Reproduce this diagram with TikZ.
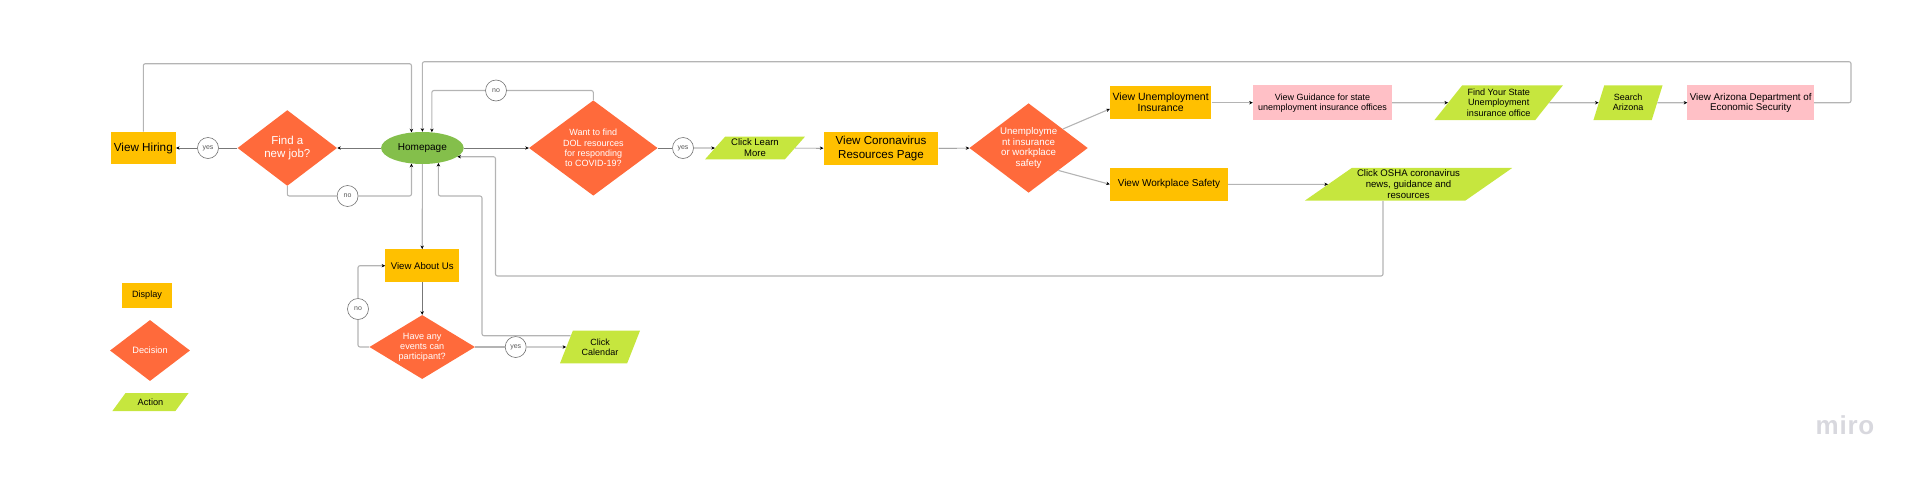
\documentclass[tikz,border=0pt]{standalone}
\usepackage{fontspec}
\setmainfont{Liberation Sans}
\usetikzlibrary{positioning,calc,arrows.meta,shapes.geometric}
\definecolor{displayc}{HTML}{FFC000}
\definecolor{decisionc}{HTML}{FF6A3B}
\definecolor{actionc}{HTML}{C6E63E}
\definecolor{pinkc}{HTML}{FFC0C6}
\definecolor{homec}{HTML}{84BF4B}
\definecolor{linec}{HTML}{777777}
\definecolor{routec}{HTML}{B4B4B4}
\definecolor{logoc}{HTML}{D8D8DE}
\newcommand{\fs}[1]{\fontsize{#1}{#1}\selectfont}
\newcommand{\logofs}{\fontsize{26}{26}\selectfont\bfseries\addfontfeature{LetterSpace=3}}

\begin{document}
\begin{tikzpicture}[x=1pt,y=-1pt]
    \tikzstyle{every node}=[inner sep=0,align=center]
    \tikzstyle{display}=[rectangle,fill=displayc,text=black]
    \tikzstyle{pink}=[rectangle,fill=pinkc,text=black]
    \tikzstyle{decision}=[diamond,aspect=1.35,fill=decisionc,text=white]
    \tikzstyle{action}=[trapezium,trapezium stretches=true,trapezium left angle=#1,trapezium right angle=180-#1,fill=actionc,text=black]
    \tikzstyle{choice}=[circle,draw=black!55,fill=white,minimum size=21,line width=.6,text=black!65,font=\fs{7}]
    \tikzstyle{tip}=[-{Stealth[length=3.6pt,width=3.4pt,black]}]
    \tikzstyle{flow}=[tip,draw=linec,line width=.7,rounded corners=2]
    \tikzstyle{plain}=[draw=linec,line width=.7,rounded corners=2]
    \tikzstyle{route}=[tip,draw=routec,line width=1.1,rounded corners=2]
    \tikzstyle{routeplain}=[draw=routec,line width=1.1,rounded corners=2]

    \useasboundingbox (0,0) rectangle (1920,480);

    % main row
    \node[display,minimum width=65,minimum height=32.6,font=\fs{11.7}] (hiring) at (143.3,148) {View Hiring};
    \node[choice] (yesjob) at (208,148) {yes};
    \node[decision,minimum width=99.5,minimum height=75.7,font=\fs{11.5}] (job) at (287.3,148) {Find a\\[1.5pt]new job?};
    \node[ellipse,fill=homec,minimum width=82.6,minimum height=32,font=\fs{10}] (home) at (422.4,148) {Homepage};
    \node[choice] (nojob) at (347.6,196) {no};
    \node[decision,minimum width=128.6,minimum height=95.3,font=\fs{9}] (dol) at (593.3,148) {Want to find\\[1.2pt]DOL resources\\[1.2pt]for responding\\[1.2pt]to COVID-19?};
    \node[choice] (nodol) at (496,90.5) {no};
    \node[choice] (yesdol) at (683,148) {yes};
    \node[action=48.5,minimum width=100,minimum height=22.6,font=\fs{9.5}] (learn) at (755,148) {Click Learn\\[1.5pt]More};
    \node[display,minimum width=114.7,minimum height=33.3,font=\fs{11.6}] (corona) at (881,148.3) {View Coronavirus\\[2pt]Resources Page};
    \node[decision,minimum width=118.4,minimum height=89.4,font=\fs{9.7}] (unemp) at (1028.6,148) {Unemployme\\[1pt]nt insurance\\[1pt]or workplace\\[1pt]safety};

    % upper branch
    \node[display,minimum width=101.4,minimum height=32.7,font=\fs{10.5}] (insurance) at (1160.7,102.7) {View Unemployment\\[.5pt]Insurance};
    \node[pink,minimum width=139,minimum height=34.7,font=\fs{9}] (guidance) at (1322.5,102.7) {View Guidance for state\\[1pt]unemployment insurance offices};
    \node[action=49,minimum width=128.6,minimum height=34.7,font=\fs{9.1}] (findstate) at (1498.7,102.7) {Find Your State\\[1.4pt]Unemployment\\[1.4pt]insurance office};
    \node[action=67.3,minimum width=69.2,minimum height=34.7,font=\fs{9}] (search) at (1628,102.7) {Search\\[1pt]Arizona};
    \node[pink,minimum width=126.5,minimum height=34.7,font=\fs{9.8}] (arizona) at (1750.7,102.7) {View Arizona Department of\\[.5pt]Economic Security};

    % lower branch
    \node[display,minimum width=118,minimum height=32.7,font=\fs{10}] (workplace) at (1169,184.3) {View Workplace Safety};
    \node[action=34.3,minimum width=207.6,minimum height=32.7,font=\fs{9.6}] (osha) at (1408.5,184.3) {Click OSHA coronavirus\\[1.4pt]news, guidance and\\[1.4pt]resources};

    % about us
    \node[display,minimum width=73.6,minimum height=32.7,font=\fs{9.6}] (about) at (422.2,265.7) {View About Us};
    \node[decision,aspect=1.6,minimum width=105.6,minimum height=64,font=\fs{9.1}] (events) at (422.2,347) {Have any\\[1pt]events can\\[1pt]participant?};
    \node[choice] (noevents) at (358,309) {no};
    \node[choice] (yesevents) at (515.7,347) {yes};
    \node[action=63,minimum width=80,minimum height=32.6,font=\fs{9}] (calendar) at (600,347) {Click\\[1.3pt]Calendar};

    % legend
    \node[display,minimum width=50,minimum height=25.3,font=\fs{9.1}] (legdisplay) at (147,295.3) {Display};
    \node[decision,minimum width=80,minimum height=61,font=\fs{9.2}] (legdecision) at (150,350.5) {Decision};
    \node[action=45,minimum width=76.5,minimum height=18,font=\fs{9.2}] (legaction) at (150.5,402) {Action};

    \node[text=logoc,font=\logofs] (logo) at (1845,425) {miro};

    \coordinate (hiringtop) at (143.3,63.7);
    \coordinate (toprt) at (1851,61.7);
    \coordinate (calturn) at (482,196);
    \coordinate (oshaturn) at (495.5,276);

    % connectors
    \draw[flow] (home) -- (job);
    \draw[plain] (job) -- (yesjob);
    \draw[flow] (yesjob) -- (hiring);
    \draw[route] (hiring.north) -- (hiringtop) -| (home.125);
    \draw[routeplain] (job.south) |- (nojob);
    \draw[route] (nojob) -| (home.235);
    \draw[flow] (home) -- (dol);
    \draw[routeplain] (dol.north) |- (nodol);
    \draw[route] (nodol) -| (home.59);
    \draw[plain] (dol) -- (yesdol);
    \draw[flow] (yesdol) -- (learn);
    \draw[flow] (learn) -- (corona);
    \draw[flow] (corona) -- (unemp);
    \draw[route] (unemp.29) -- (insurance.187);
    \draw[route] (unemp.-37) -- (workplace.west);
    \draw[route] (insurance.east) -- (guidance.west);
    \draw[route] (guidance.east) -- (findstate);
    \draw[route] (findstate) -- (search);
    \draw[route] (search) -- (arizona);
    \draw[route] (arizona.east) -| (toprt) -| (home.north);
    \draw[route] (workplace.east) -- (osha);
    \draw[route] (osha.213) |- (oshaturn) |- (home.-14);
    \draw[route] (home.south) -- (about.north);
    \draw[flow] (about.south) -- (events.north);
    \draw[routeplain] (events.west) -| (noevents);
    \draw[route] (noevents) |- (about.west);
    \draw[routeplain] (events) -- (yesevents);
    \draw[route] (yesevents) -- (calendar);
    \draw[route] (calendar.159) -| (calturn) -| (home.-43);
\end{tikzpicture}
\end{document}
